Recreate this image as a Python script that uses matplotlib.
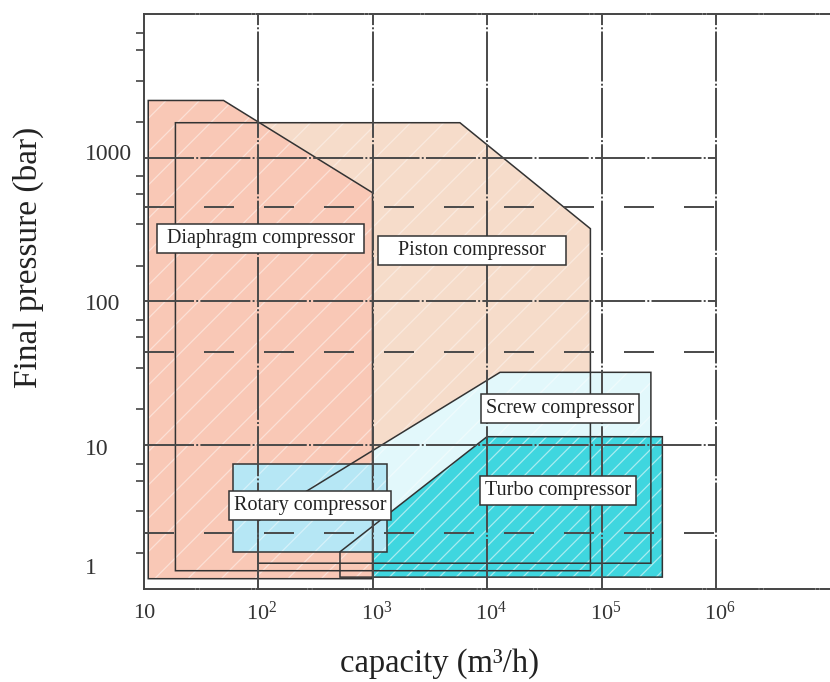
import matplotlib
matplotlib.use("Agg")
import matplotlib.pyplot as plt
from matplotlib.patches import Polygon
from matplotlib.path import Path
from matplotlib.ticker import FixedLocator, NullLocator, NullFormatter

plt.rcParams["font.family"] = ["Liberation Serif", "DejaVu Serif"]
plt.rcParams["mathtext.fontset"] = "custom"
plt.rcParams["mathtext.rm"] = "Liberation Serif"
plt.rcParams["mathtext.it"] = "Liberation Serif:italic"
plt.rcParams["hatch.linewidth"] = 0.9
plt.rcParams["lines.scale_dashes"] = False

# Operating ranges: capacity (m3/h) vs final pressure (bar)
diaphragm_cap = [11, 11, 50, 1000, 1000]
diaphragm_p = [1.17, 2500, 2500, 570, 1.17]
piston_cap = [19, 19, 5800, 80000, 80000]
piston_p = [1.33, 1750, 1750, 320, 1.33]
screw_cap = [100, 100, 13000, 2.7e5, 2.7e5]
screw_p = [1.5, 2.95, 32, 32, 1.5]
turbo_cap = [520, 520, 10000, 3.4e5, 3.4e5]
turbo_p = [1.2, 1.8, 11.4, 11.4, 1.2]
rotary_cap = [60, 60, 1340, 1340]
rotary_p = [1.8, 7.4, 7.4, 1.8]

region_names = ["Diaphragm compressor", "Piston compressor", "Screw compressor",
                "Turbo compressor", "Rotary compressor"]
name_cap = [106, 7400, 43400, 41700, 284]
name_p = [273, 225, 17.8, 4.78, 3.76]

x_ticks = [10, 1e2, 1e3, 1e4, 1e5, 1e6]
x_tick_labels = ["10", r"$\mathregular{10^2}$", r"$\mathregular{10^3}$",
                 r"$\mathregular{10^4}$", r"$\mathregular{10^5}$", r"$\mathregular{10^6}$"]
y_ticks = [1, 10, 100, 1000]
y_tick_labels = ["1", "10", "100", "1000"]
y_minor_steps = [1.77, 3.44, 5.6, 7.4]
grid_x = [1e2, 1e3, 1e4, 1e5, 1e6]
grid_solid_y = [10, 100, 1000]
grid_dashed_y = [2.44, 44, 450]

fig = plt.figure(figsize=(8.3, 6.82), dpi=100)
ax = fig.add_axes([143.5 / 830, (682 - 588.5) / 682, 687 / 830, 574.5 / 682])
ax.set_xscale("log")
ax.set_yscale("log")
ax.set_xlim(10, 1e7)
ax.set_ylim(1, 1e4)

line_col = "#333333"
grid_col = "#4a4a4a"
long_dash_dot = (0, (36, 1.6, 1.4, 1.6))

for side in ("left", "top", "bottom"):
    ax.spines[side].set_linewidth(1.4)
    ax.spines[side].set_color("#444444")
ax.spines["right"].set_visible(False)
ax.spines["top"].set_linestyle(long_dash_dot)
ax.spines["bottom"].set_linestyle(long_dash_dot)

# filled regions, back to front
fills = [
    (piston_cap, piston_p, "#F6DCCA", "/", 0.4, 1),
    (screw_cap, screw_p, "#E2F8FB", "/", 0.45, 2),
    (turbo_cap, turbo_p, "#3FD6DF", "//", 0.55, 3),
    (diaphragm_cap, diaphragm_p, "#F9C8B6", "/", 0.45, 4),
    (rotary_cap, rotary_p, "#B6E7F5", "/", 0.45, 5),
]
for cx, py, fc, hatch, ha, z in fills:
    pts = list(zip(cx, py))
    ax.add_patch(Polygon(pts, closed=True, facecolor=fc, edgecolor=(1, 1, 1, ha),
                         linewidth=0, hatch=hatch, zorder=z))
for cx, py, fc, hatch, ha, z in fills:
    pts = list(zip(cx, py))
    ax.add_patch(Polygon(pts, closed=True, fill=False, edgecolor=line_col,
                         linewidth=1.1, zorder=6))

# grid
for gx in grid_x:
    ax.plot([gx, gx], [1, 1e4], color=grid_col, lw=1.4, ls=long_dash_dot, zorder=6.5)
for gy in grid_solid_y:
    ax.plot([10, 1e6], [gy, gy], color=grid_col, lw=1.4, ls=long_dash_dot, zorder=6.5)
for gy in grid_dashed_y:
    ax.plot([10, 1e6], [gy, gy], color=grid_col, lw=1.4, dashes=(21.6, 21.6), zorder=6.5)

# ticks
ax.xaxis.set_major_locator(NullLocator())
ax.xaxis.set_minor_locator(NullLocator())
ax.yaxis.set_major_locator(NullLocator())
y_minor = [m * d for d in y_ticks for m in y_minor_steps]
ax.yaxis.set_minor_locator(FixedLocator(y_minor))
ax.yaxis.set_minor_formatter(NullFormatter())
ax.tick_params(axis="y", which="minor", direction="out", length=6, width=1.2,
               color="#444444")

x_label_dx = [1, 4, 4, 4, 4, 4]
for xv, xl, dx in zip(x_ticks, x_tick_labels, x_label_dx):
    ax.annotate(xl, xy=(xv, 0), xycoords=("data", "axes fraction"),
                xytext=(dx, -25), textcoords="offset pixels",
                ha="center", va="center", fontsize=16, color="#333333")
y_label_dy = [20, -5, -3, 3]
for yv, yl, dy in zip(y_ticks, y_tick_labels, y_label_dy):
    ax.annotate(yl, xy=(0, yv), xycoords=("axes fraction", "data"),
                xytext=(-58.5, dy), textcoords="offset pixels",
                ha="left", va="center", fontsize=17, color="#333333")


def label_box(extra_x):
    """Square box around a label with additional horizontal padding (pixels)."""
    def style(x0, y0, width, height, mutation_size):
        pad = 0.25 * mutation_size
        px = pad + extra_x
        xa, xb = x0 - px, x0 + width + px
        ya, yb = y0 - pad, y0 + height + pad
        return Path([(xa, ya), (xb, ya), (xb, yb), (xa, yb), (xa, ya)], closed=True)
    return style


name_extra_pad = [4.5, 15.5, 0, 0, 0]

# region names
for name, cx, py, ex in zip(region_names, name_cap, name_p, name_extra_pad):
    ax.text(cx, py, name, ha="center", va="center", fontsize=14.5, color="#222222",
            bbox=dict(boxstyle=label_box(ex), fc="white", ec="#333333", lw=1.1),
            zorder=10)

fig.text(28 / 830, 1 - 257.5 / 682, "Final pressure (bar)", rotation=90,
         ha="center", va="center", fontsize=24, color="#222222")
fig.text(439 / 830, 1 - 664 / 682, "capacity (m\u00b3/h)",
         ha="center", va="center", fontsize=23.5, color="#222222")

fig.savefig("out.png", dpi=100)
